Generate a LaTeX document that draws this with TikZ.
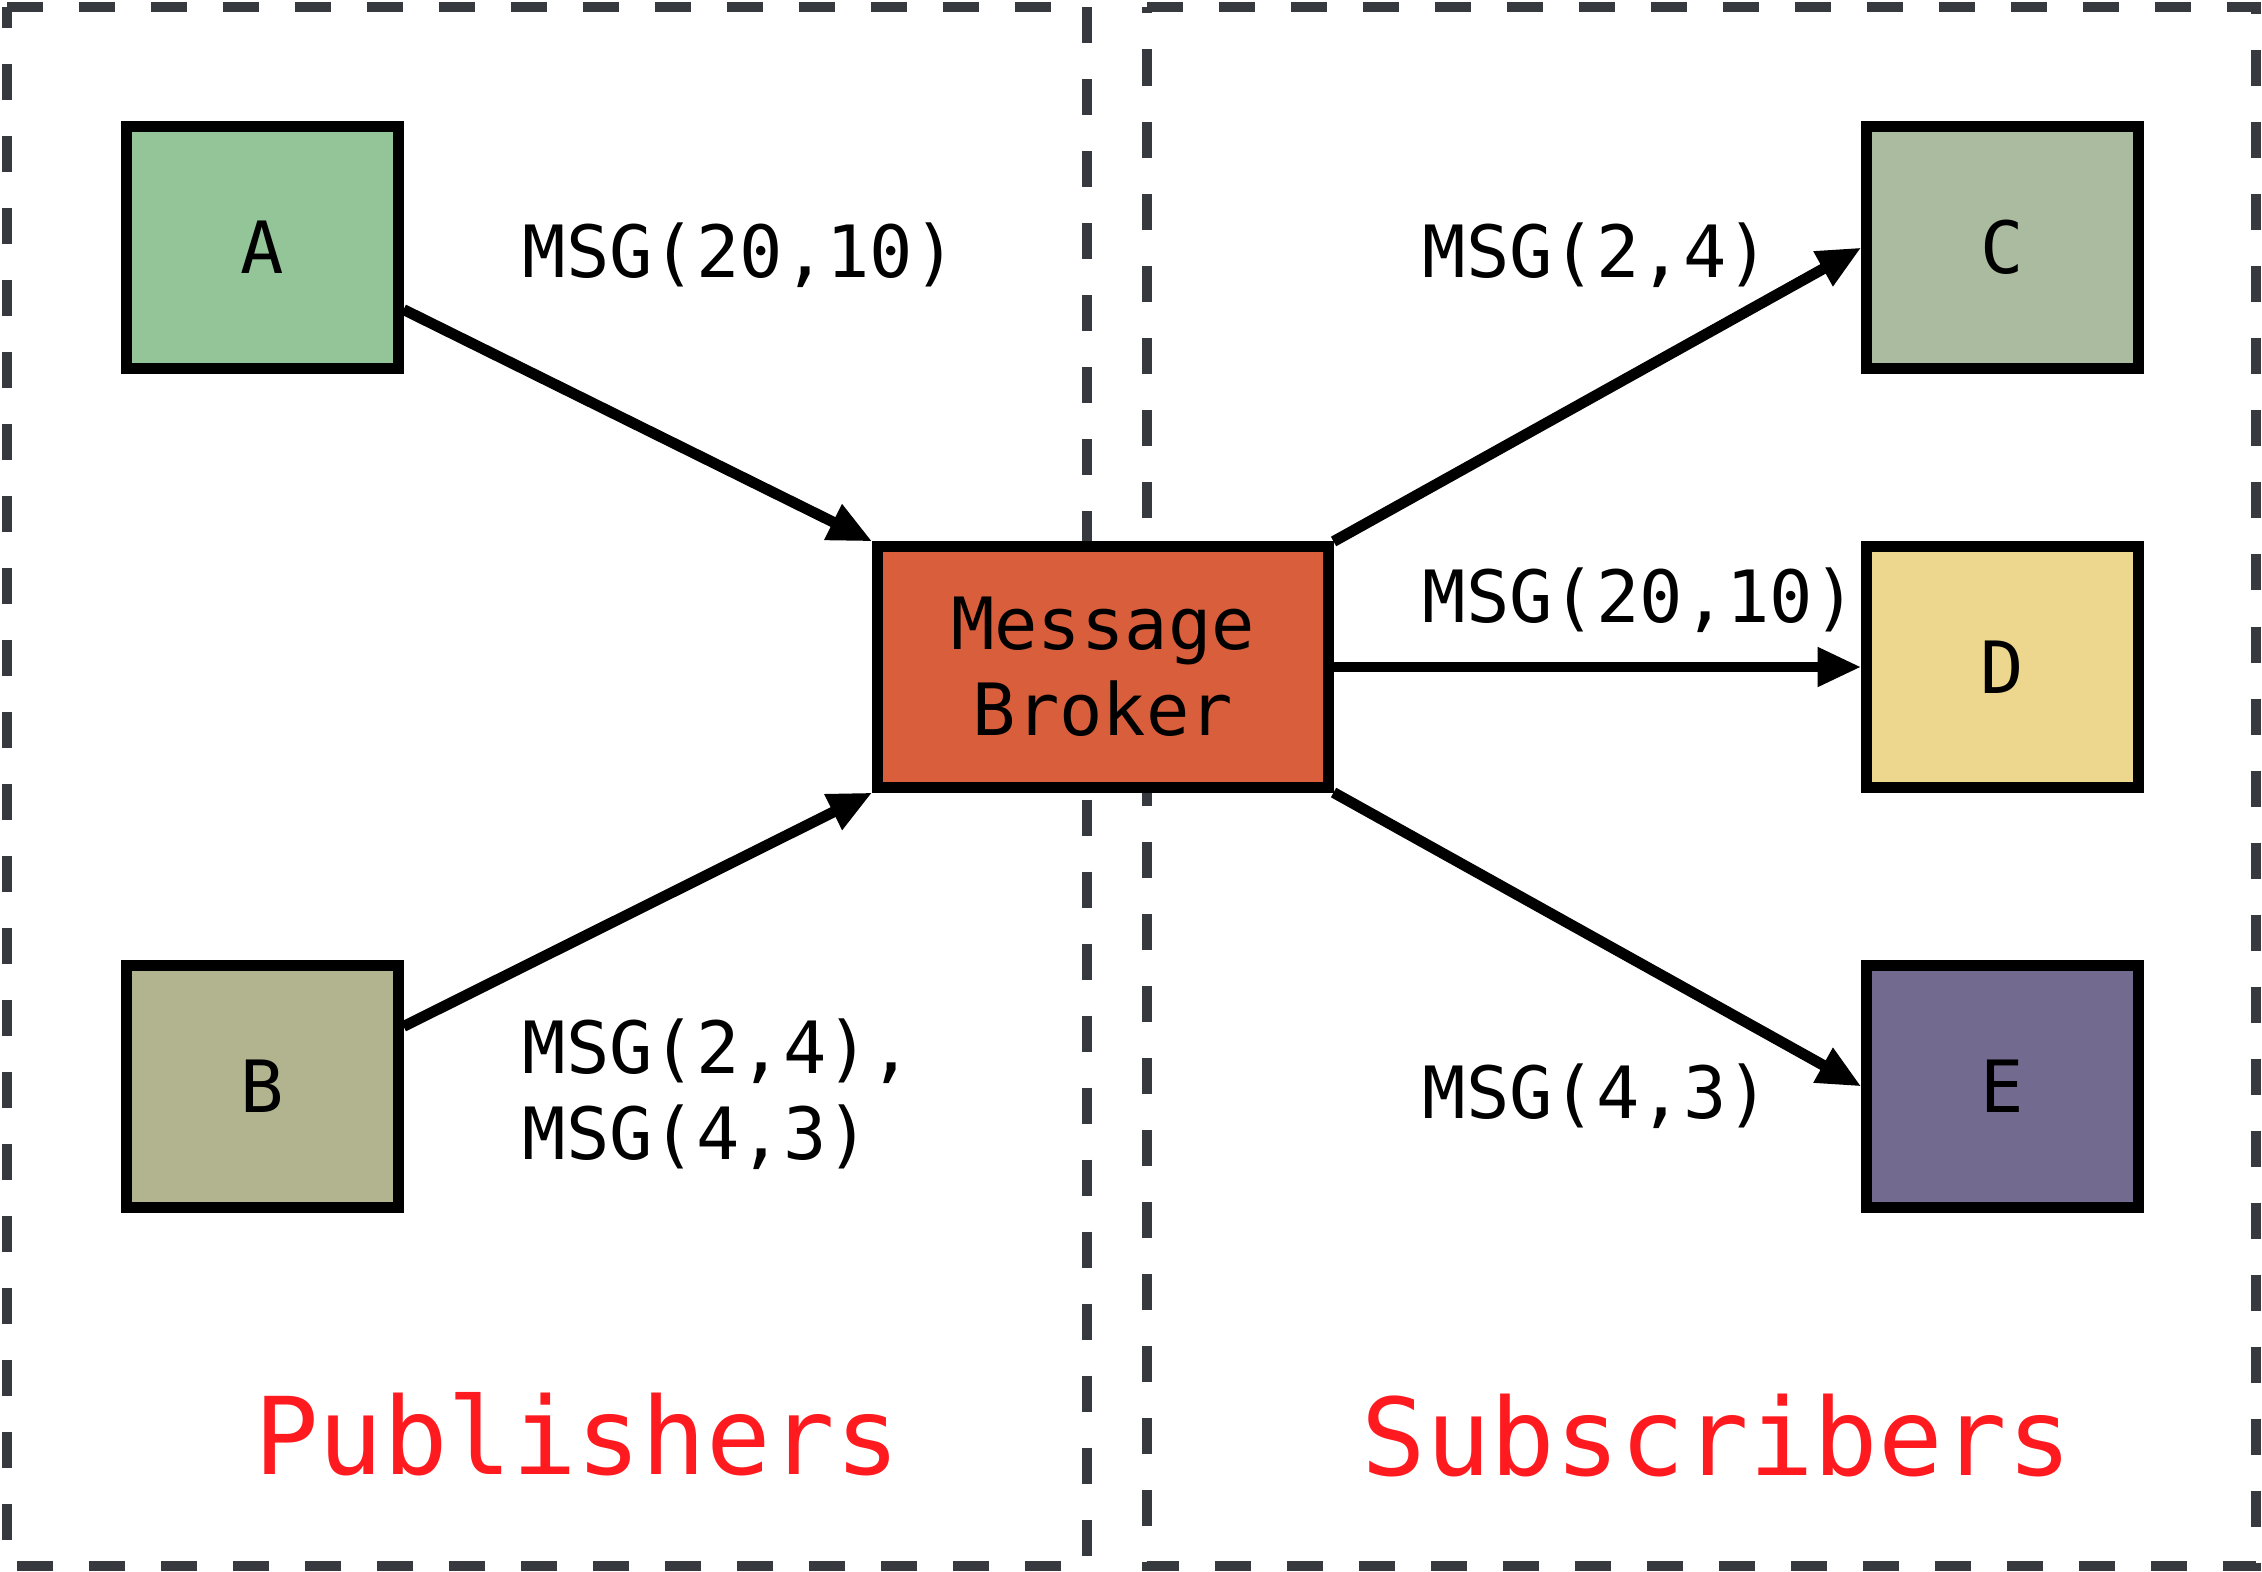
\documentclass[tikz,border=0pt]{standalone}
\usepackage{fontspec}
\newfontfamily\monofont{DejaVu Sans Mono}
\usetikzlibrary{arrows.meta}
\definecolor{grpline}{HTML}{36393D}
\definecolor{fillA}{HTML}{93C598}
\definecolor{fillB}{HTML}{B2B38F}
\definecolor{fillBroker}{HTML}{D95E3B}
\definecolor{fillC}{HTML}{ABBB9F}
\definecolor{fillD}{HTML}{EDD78F}
\definecolor{fillE}{HTML}{736B8F}
\definecolor{grpred}{HTML}{FF1A1F}
\newcommand\lblfont{\monofont\fontsize{20.5}{24.45}\selectfont}
\newcommand\grpfont{\monofont\fontsize{30.5}{36}\selectfont}
\begin{document}
\begin{tikzpicture}[x=0.01cm,y=-0.01cm,
  box/.style={draw=black, line width=3.1pt, minimum width=2.71cm, minimum height=2.41cm, inner sep=0pt, font=\lblfont},
  conn/.style={line width=3.1pt, -{Triangle[length=12.5pt,width=10.5pt]}},
  lbl/.style={font=\lblfont, inner sep=0pt},
  grplbl/.style={font=\grpfont, text=grpred, inner sep=0pt},
  grp/.style={draw=grpline, line width=2.85pt, dash pattern=on 10.24pt off 10.24pt}]
\useasboundingbox (0,0) rectangle (2262,1572);
% group frames
\draw[grp] (7,7) -- (1087,7) -- (1087,1566) -- (7,1566) -- cycle;
\draw[grp] (1147,7) -- (2256,7) -- (2256,1566) -- (1147,1566) -- cycle;
% nodes
\node[box, fill=fillA] (A) at (262.5,247.5) {A};
\node[box, fill=fillB] (B) at (262.5,1086.5) {B};
\node[box, fill=fillBroker, minimum width=4.5cm, minimum height=2.4cm, align=center] (broker) at (1103,667) {Message\\Broker};
\node[box, fill=fillC] (C) at (2002.5,247.5) {C};
\node[box, fill=fillD] (D) at (2002.5,667) {D};
\node[box, fill=fillE] (E) at (2002.5,1086.5) {E};
% connectors
\draw[conn] ([yshift=-0.62cm]A.east) -- (broker.north west);
\draw[conn] ([yshift=0.6cm]B.east) -- (broker.south west);
\draw[conn] (broker.north east) -- (C.west);
\draw[conn] (broker.east) -- (D.west);
\draw[conn] (broker.south east) -- (E.west);
% labels
\node[lbl, anchor=base west] (lab1) at (522,277) {MSG(20,10)};
\node[lbl, anchor=west, align=left] (lab2) at (522,1094) {MSG(2,4),\\MSG(4,3)};
\node[lbl, anchor=base west] (lab3) at (1422,277) {MSG(2,4)};
\node[lbl, anchor=base west] (lab4) at (1422,622) {MSG(20,10)};
\node[lbl, anchor=base west] (lab5) at (1422,1118) {MSG(4,3)};
\node[grplbl, anchor=base] (pub) at (577,1474) {Publishers};
\node[grplbl, anchor=base] (sub) at (1717,1475) {Subscribers};
\end{tikzpicture}
\end{document}
